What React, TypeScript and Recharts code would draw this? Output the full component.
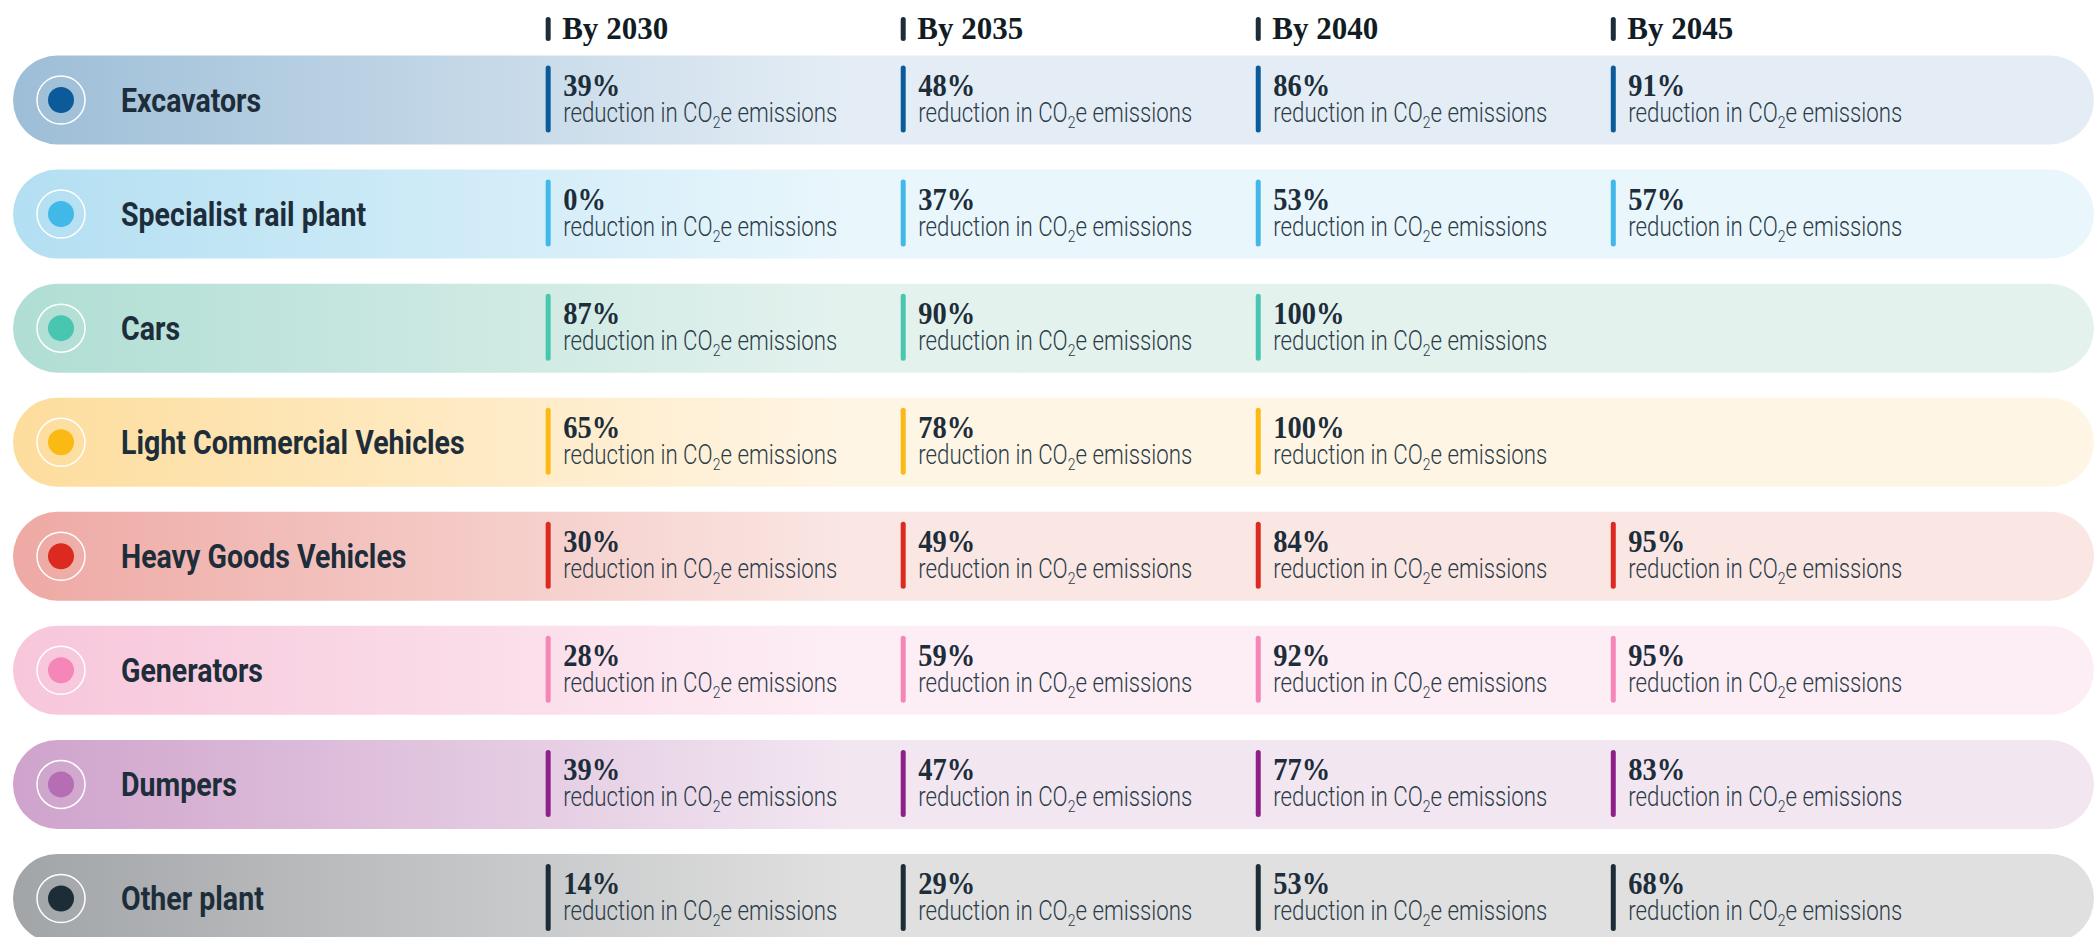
import { ComposedChart, Bar, Scatter, XAxis, YAxis } from "recharts";

const categories = [
  "Excavators",
  "Specialist rail plant",
  "Cars",
  "Light Commercial Vehicles",
  "Heavy Goods Vehicles",
  "Generators",
  "Dumpers",
  "Other plant",
];

const years = [2030, 2035, 2040, 2045];

// % reduction in CO2e emissions, one list per milestone year (null = not shown)
const by2030 = [39, 0, 87, 65, 30, 28, 39, 14];
const by2035 = [48, 37, 90, 78, 49, 59, 47, 29];
const by2040 = [86, 53, 100, 100, 84, 92, 77, 53];
const by2045 = [91, 57, null, null, 95, 95, 83, 68];

const dotColors = ["#0b5b9a", "#42b8e9", "#48c6b0", "#fbb914", "#dc2a20", "#f586b7", "#b56db3", "#1c2d38"];
const accentColors = ["#0b5b9a", "#42b8e9", "#48c6b0", "#fbb914", "#dc2a20", "#f586b7", "#8d2089", "#1c2d38"];
const fadeFrom = ["#9dbed7", "#b3dff2", "#b0ded4", "#fddd9d", "#eea9a4", "#f7c6da", "#cfa3cc", "#a2a5a8"];
const fadeTo = ["#e4edf5", "#e9f6fc", "#e4f2ee", "#fff5e4", "#fae6e3", "#fdeef5", "#f2e6f1", "#e0e0e0"];

const X_MIN = 2022.28;
const X_MAX = 2051.77;
const INK = "#1d2d3a";
const SANS = "Roboto, 'Liberation Sans', sans-serif";
const SERIF = "'Liberation Serif', 'DejaVu Serif', serif";

const rows = categories.map((name, i) => ({ name, track: X_MAX, idx: i }));
const seriesByYear = [by2030, by2035, by2040, by2045];
const cells = years.map((year, j) =>
  categories
    .map((name, i) => ({ name, year, value: seriesByYear[j][i], idx: i }))
    .filter((d) => d.value !== null)
);

// squeeze text horizontally to mimic the condensed faces of the original
const Squeezed = ({ x, y, sx, children }: any) => (
  <g transform={`translate(${x},${y}) scale(${sx},1)`}>{children}</g>
);

const Track = (props: any) => {
  const { x, y, width, height, payload } = props;
  const i = payload.idx;
  const left = 13;
  const cy = y + height / 2;
  return (
    <g>
      <rect x={left} y={y} width={x + width - left} height={height} rx={height / 2} fill={`url(#fade${i})`} />
      <circle cx={61} cy={cy} r={24} fill="none" stroke="#ffffff" strokeWidth={1.5} />
      <circle cx={61} cy={cy} r={13} fill={dotColors[i]} />
      <Squeezed x={121} y={cy + 12} sx={0.865}>
        <text x={0} y={0} fontFamily={SANS} fontWeight={700} fontSize={33} fill={INK}>
          {payload.name}
        </text>
      </Squeezed>
    </g>
  );
};

const CellMark = (props: any) => {
  const { cx, cy, payload } = props;
  const i = payload.idx;
  return (
    <g>
      <rect x={cx - 2.5} y={cy - 34} width={5} height={67} rx={2.5} fill={accentColors[i]} />
      <Squeezed x={cx + 15} y={cy - 4} sx={0.92}>
        <text x={0} y={0} fontFamily={SERIF} fontWeight={700} fontSize={31} fill={INK}>
          {payload.value}%
        </text>
      </Squeezed>
      <Squeezed x={cx + 15} y={cy + 22} sx={0.825}>
        <text x={0} y={0} fontFamily={SANS} fontWeight={300} fontSize={27} fill="#2c3c48">
          reduction in CO
          <tspan fontSize={17} dy={6}>2</tspan>
          <tspan dy={-6}>e emissions</tspan>
        </text>
      </Squeezed>
    </g>
  );
};

const YearTick = (props: any) => {
  const { x, payload } = props;
  return (
    <g>
      <rect x={x - 2.5} y={17} width={5} height={24} rx={2.5} fill={INK} />
      <Squeezed x={x + 14} y={39} sx={0.97}>
        <text x={0} y={0} fontFamily={SERIF} fontWeight={700} fontSize={32} fill="#111c24">
          By {payload.value}
        </text>
      </Squeezed>
    </g>
  );
};

export default function App() {
  return (
    <div style={{ position: "absolute", left: 0, top: 0, width: 2094, height: 937, overflow: "hidden", background: "#fff" }}>
      <ComposedChart
        width={2094}
        height={955}
        data={rows}
        layout="vertical"
        margin={{ top: 0, right: 0, bottom: 0, left: 0 }}
      >
        <defs>
          {categories.map((_, i) => (
            <linearGradient key={i} id={`fade${i}`} x1="0" y1="0" x2="0.4" y2="0">
              <stop offset="0" stopColor={fadeFrom[i]} />
              <stop offset="1" stopColor={fadeTo[i]} />
            </linearGradient>
          ))}
        </defs>
        <XAxis
          type="number"
          dataKey="year"
          orientation="top"
          domain={[X_MIN, X_MAX]}
          allowDataOverflow
          ticks={years}
          height={42.5}
          axisLine={false}
          tickLine={false}
          tick={<YearTick />}
        />
        <YAxis type="category" dataKey="name" hide allowDuplicatedCategory={false} />
        <Bar dataKey="track" barSize={89} shape={<Track />} isAnimationActive={false} />
        {cells.map((data, j) => (
          <Scatter key={years[j]} data={data} dataKey="year" shape={<CellMark />} isAnimationActive={false} />
        ))}
      </ComposedChart>
    </div>
  );
}
